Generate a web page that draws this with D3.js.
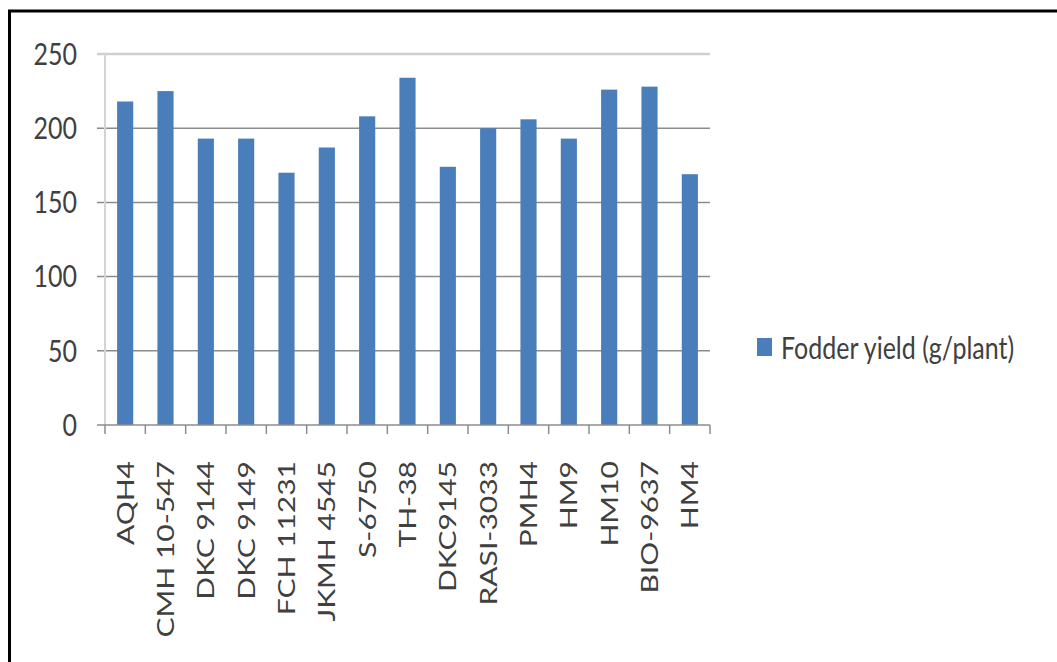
<!DOCTYPE html>
<html>
<head>
<meta charset="utf-8">
<script src="https://cdn.jsdelivr.net/npm/d3@7"></script>
<style>
  body { margin: 0; background: #fff; }
  svg { display: block; }
  text { font-family: Lato, "Open Sans", sans-serif; fill: #404040; }
</style>
</head>
<body>
<svg id="chart" width="1057" height="662"></svg>
<script>
// data
const hybrids = ["AQH4", "CMH 10-547", "DKC 9144", "DKC 9149", "FCH 11231", "JKMH 4545",
  "S-6750", "TH-38", "DKC9145", "RASI-3033", "PMH4", "HM9", "HM10", "BIO-9637", "HM4"];
const fodderYield = [218, 225, 193, 193, 170, 187, 208, 234, 174, 200, 206, 193, 226, 228, 169];
const yTicks = [0, 50, 100, 150, 200, 250];
const seriesName = "Fodder yield (g/plant)";

const svg = d3.select("#chart");
const plotLeft = 105, plotRight = 710, plotTop = 54, plotBottom = 425;
const barColor = "#4a7ebb";

// frame (only top and left edges are visible in the picture)
svg.append("line").attr("x1", 8).attr("x2", 1057).attr("y1", 11).attr("y2", 11)
  .attr("stroke", "#000").attr("stroke-width", 3);
svg.append("line").attr("x1", 9.5).attr("x2", 9.5).attr("y1", 10).attr("y2", 662)
  .attr("stroke", "#000").attr("stroke-width", 3);

let x = d3.scaleBand().domain(hybrids).range([plotLeft, plotRight])
  .paddingInner(0.6).paddingOuter(0.3);
let y = d3.scaleLinear().domain([0, 250]).range([plotBottom, plotTop]);

// gridlines + y labels
svg.append("g").selectAll("line")
  .data(yTicks.filter(d => d > 0))
  .enter().append("line")
  .attr("x1", plotLeft - 8).attr("x2", plotRight)
  .attr("y1", d => y(d)).attr("y2", d => y(d))
  .attr("stroke", d => d == 250 ? "#d0d0d0" : "#8c8c8c")
  .attr("stroke-width", d => d == 250 ? 2.5 : 1.5);

svg.append("line").attr("x1", plotLeft).attr("x2", plotLeft).attr("y1", plotTop).attr("y2", plotBottom)
  .attr("stroke", "#d4d4d4").attr("stroke-width", 2);

svg.append("g").selectAll("text")
  .data(yTicks)
  .enter().append("text")
  .attr("text-anchor", "end")
  .attr("font-size", 25)
  .attr("transform", d => `translate(77, ${y(d)}) scale(1, 1.2)`)
  .attr("dy", "0.36em")
  .text(d => d);

// bars
svg.append("g").selectAll("rect")
  .data(fodderYield)
  .enter().append("rect")
  .attr("x", (d, i) => x(hybrids[i]))
  .attr("width", x.bandwidth())
  .attr("y", d => y(d))
  .attr("height", d => y(0) - y(d))
  .attr("fill", barColor);

// x axis line and ticks between categories
svg.append("line").attr("x1", plotLeft - 8).attr("x2", plotRight)
  .attr("y1", plotBottom).attr("y2", plotBottom)
  .attr("stroke", "#8c8c8c").attr("stroke-width", 1.5);

const step = x.step();
svg.append("g").selectAll("line")
  .data(d3.range(hybrids.length + 1))
  .enter().append("line")
  .attr("x1", i => plotLeft + i * step).attr("x2", i => plotLeft + i * step)
  .attr("y1", plotBottom).attr("y2", plotBottom + 9)
  .attr("stroke", "#8c8c8c").attr("stroke-width", 1.5);

// rotated category labels
svg.append("g").selectAll("text")
  .data(hybrids)
  .enter().append("text")
  .attr("text-anchor", "end")
  .attr("font-size", 24)
  .attr("transform", d => `translate(${x(d) + x.bandwidth() / 2}, 461) rotate(-90) scale(1.25, 1)`)
  .attr("dy", "0.36em")
  .text(d => d);

// legend
svg.append("rect").attr("x", 757).attr("y", 338).attr("width", 15).attr("height", 18)
  .attr("fill", barColor);
svg.append("text")
  .attr("font-size", 25)
  .attr("transform", "translate(781, 348) scale(1, 1.2)")
  .attr("dy", "0.36em")
  .text(seriesName);
</script>
</body>
</html>
